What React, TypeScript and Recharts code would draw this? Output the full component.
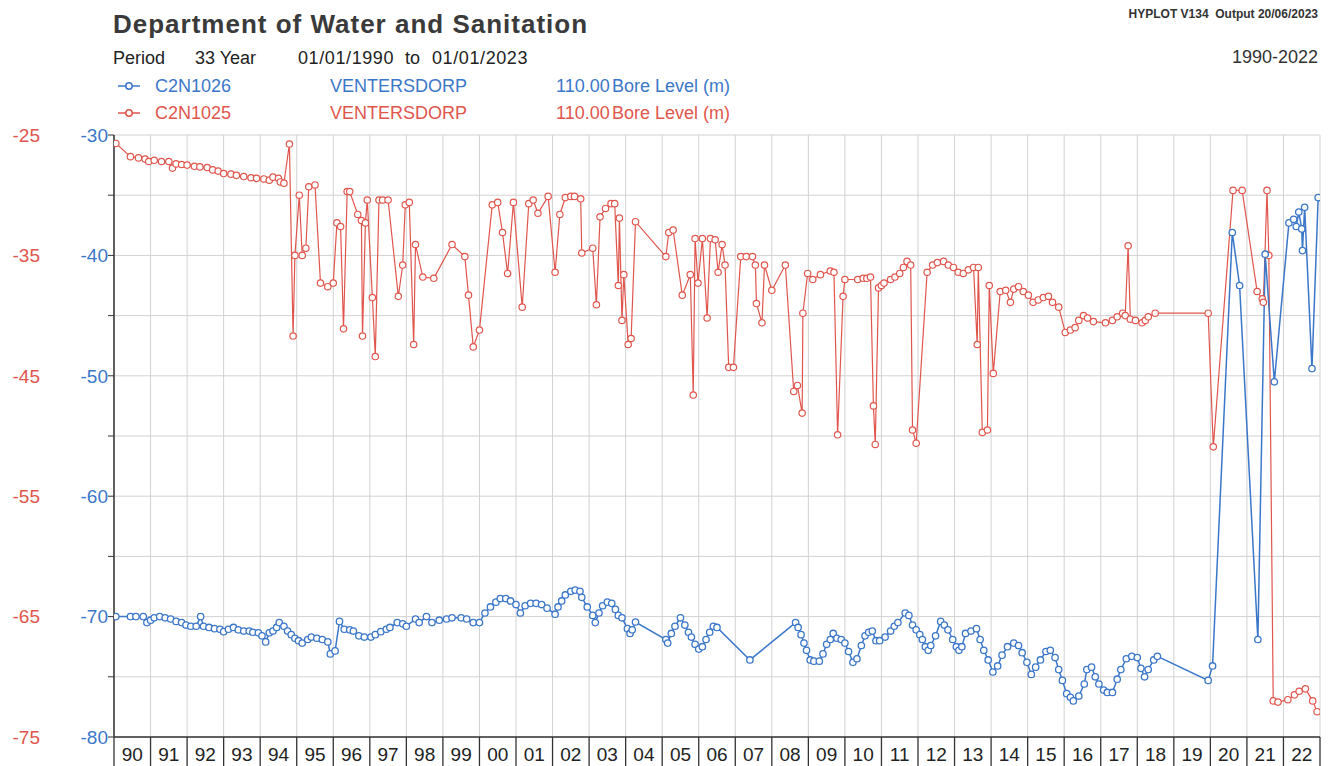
import { LineChart, Line, XAxis, YAxis, CartesianGrid } from "recharts";

const BLUE = "#3b77c9";
const RED = "#e0564d";
const FONT = "'Liberation Sans', Arial, sans-serif";

// C2N1026 bore level (m): [decimal year, level]
const c2n1026: [number, number][] = [
  [1990.05, -70.0], [1990.45, -70.0], [1990.6, -70.0], [1990.8, -70.0], [1990.9, -70.5],
  [1991.0, -70.3], [1991.1, -70.1], [1991.25, -70.0], [1991.4, -70.1], [1991.55, -70.2],
  [1991.7, -70.4], [1991.85, -70.5], [1991.97, -70.7], [1992.1, -70.8], [1992.25, -70.8],
  [1992.37, -70.0], [1992.45, -70.8], [1992.6, -70.9], [1992.75, -71.0], [1992.9, -71.05],
  [1993.0, -71.25], [1993.13, -71.05], [1993.27, -70.9], [1993.4, -71.1], [1993.55, -71.2],
  [1993.7, -71.2], [1993.8, -71.3], [1993.95, -71.35], [1994.05, -71.6], [1994.15, -72.1],
  [1994.25, -71.35], [1994.35, -71.2], [1994.45, -70.9], [1994.52, -70.5], [1994.65, -70.8],
  [1994.75, -71.2], [1994.85, -71.5], [1994.95, -71.8], [1995.05, -72.0], [1995.15, -72.2],
  [1995.3, -71.9], [1995.4, -71.7], [1995.55, -71.8], [1995.7, -71.9], [1995.85, -72.1],
  [1995.92, -73.1], [1996.05, -72.85], [1996.17, -70.4], [1996.3, -71.05], [1996.45, -71.1],
  [1996.55, -71.2], [1996.7, -71.6], [1996.85, -71.7], [1997.03, -71.7], [1997.15, -71.5],
  [1997.3, -71.25], [1997.45, -71.05], [1997.55, -70.9], [1997.75, -70.5], [1997.9, -70.6],
  [1998.0, -70.8], [1998.25, -70.2], [1998.35, -70.5], [1998.55, -70.0], [1998.7, -70.5],
  [1998.9, -70.3], [1999.1, -70.2], [1999.25, -70.1], [1999.5, -70.1], [1999.65, -70.2],
  [1999.83, -70.5], [2000.0, -70.5], [2000.15, -69.7], [2000.3, -69.2], [2000.45, -68.8],
  [2000.57, -68.5], [2000.72, -68.5], [2000.85, -68.7], [2001.0, -69.0], [2001.12, -69.7],
  [2001.25, -69.1], [2001.4, -68.9], [2001.55, -68.9], [2001.7, -69.0], [2001.85, -69.3],
  [2002.07, -69.8], [2002.15, -69.2], [2002.25, -68.7], [2002.35, -68.2], [2002.5, -67.9],
  [2002.62, -67.8], [2002.75, -67.9], [2002.8, -68.4], [2002.95, -69.2], [2003.1, -69.9],
  [2003.17, -70.5], [2003.27, -69.7], [2003.37, -69.1], [2003.5, -68.8], [2003.62, -68.9],
  [2003.72, -69.4], [2003.8, -69.9], [2003.9, -70.1], [2004.05, -71.0], [2004.12, -71.4],
  [2004.18, -71.1], [2004.27, -70.45], [2005.1, -71.9], [2005.15, -72.2], [2005.25, -71.4],
  [2005.35, -70.8], [2005.5, -70.1], [2005.62, -70.7], [2005.72, -71.3], [2005.8, -71.7],
  [2005.9, -72.3], [2006.0, -72.7], [2006.1, -72.5], [2006.2, -71.9], [2006.3, -71.3],
  [2006.4, -70.8], [2006.5, -70.9], [2007.4, -73.6], [2008.65, -70.5], [2008.72, -70.9],
  [2008.8, -71.5], [2008.88, -72.2], [2008.95, -72.8], [2009.05, -73.6], [2009.15, -73.7],
  [2009.3, -73.7], [2009.4, -73.1], [2009.5, -72.3], [2009.6, -71.9], [2009.68, -71.4],
  [2009.78, -71.8], [2009.9, -71.9], [2010.0, -72.2], [2010.1, -72.9], [2010.22, -73.8],
  [2010.33, -73.5], [2010.45, -72.4], [2010.55, -71.6], [2010.65, -71.3], [2010.75, -71.2],
  [2010.85, -72.0], [2010.95, -72.0], [2011.1, -71.7], [2011.25, -71.2], [2011.35, -70.8],
  [2011.45, -70.5], [2011.65, -69.7], [2011.75, -69.9], [2011.85, -70.7], [2011.95, -71.1],
  [2012.05, -71.5], [2012.12, -71.9], [2012.2, -72.5], [2012.28, -72.8], [2012.35, -72.4],
  [2012.48, -71.6], [2012.62, -70.4], [2012.72, -70.7], [2012.82, -71.1], [2012.95, -71.9],
  [2013.05, -72.5], [2013.12, -72.8], [2013.2, -72.5], [2013.3, -71.4], [2013.45, -71.2],
  [2013.6, -71.0], [2013.7, -71.9], [2013.8, -72.8], [2013.92, -73.6], [2014.05, -74.6],
  [2014.18, -74.1], [2014.3, -73.2], [2014.45, -72.5], [2014.62, -72.2], [2014.75, -72.4],
  [2014.85, -73.0], [2014.98, -73.8], [2015.1, -74.8], [2015.22, -74.2], [2015.35, -73.6],
  [2015.5, -72.9], [2015.62, -72.8], [2015.75, -73.4], [2015.85, -74.4], [2015.95, -75.3],
  [2016.07, -76.4], [2016.17, -76.7], [2016.25, -77.0], [2016.4, -76.6], [2016.55, -75.6],
  [2016.62, -74.4], [2016.75, -74.2], [2016.85, -75.0], [2016.95, -75.6], [2017.08, -76.1],
  [2017.18, -76.3], [2017.32, -76.3], [2017.45, -75.2], [2017.55, -74.4], [2017.7, -73.5],
  [2017.85, -73.3], [2018.0, -73.4], [2018.1, -74.3], [2018.2, -75.0], [2018.3, -74.4],
  [2018.45, -73.6], [2018.55, -73.3], [2019.94, -75.3], [2020.06, -74.1], [2020.6, -38.1],
  [2020.8, -42.5], [2021.3, -71.9], [2021.5, -39.9], [2021.75, -50.5], [2022.15, -37.3],
  [2022.28, -37.0], [2022.35, -37.6], [2022.42, -36.4], [2022.5, -37.8], [2022.52, -39.6],
  [2022.58, -36.0], [2022.78, -49.4], [2022.95, -35.2],
];

// C2N1025 bore level (m): [decimal year, level]
const c2n1025: [number, number][] = [
  [1990.05, -25.7], [1990.45, -26.8], [1990.67, -26.9], [1990.85, -27.0], [1990.95, -27.2],
  [1991.1, -27.1], [1991.3, -27.2], [1991.5, -27.2], [1991.6, -27.75], [1991.7, -27.4],
  [1991.85, -27.45], [1992.0, -27.5], [1992.2, -27.6], [1992.35, -27.65], [1992.55, -27.7],
  [1992.7, -27.9], [1992.85, -28.0], [1993.0, -28.2], [1993.2, -28.25], [1993.35, -28.35],
  [1993.55, -28.45], [1993.75, -28.55], [1993.9, -28.6], [1994.1, -28.65], [1994.25, -28.75],
  [1994.35, -28.5], [1994.5, -28.6], [1994.55, -28.9], [1994.65, -29.0], [1994.8, -25.75],
  [1994.9, -41.7], [1994.95, -35.0], [1995.07, -30.0], [1995.15, -35.0], [1995.25, -34.4],
  [1995.33, -29.3], [1995.5, -29.15], [1995.65, -37.3], [1995.85, -37.6], [1996.0, -37.3],
  [1996.1, -32.3], [1996.2, -32.6], [1996.28, -41.1], [1996.38, -29.7], [1996.45, -29.7],
  [1996.67, -31.6], [1996.77, -32.1], [1996.8, -41.7], [1996.88, -32.3], [1996.93, -30.4],
  [1997.07, -38.5], [1997.15, -43.4], [1997.25, -30.4], [1997.35, -30.4], [1997.5, -30.4],
  [1997.78, -38.4], [1997.9, -35.8], [1997.97, -30.8], [1998.08, -30.6], [1998.2, -42.4],
  [1998.25, -34.1], [1998.45, -36.8], [1998.75, -36.9], [1999.25, -34.1], [1999.6, -35.1],
  [1999.7, -38.3], [1999.83, -42.6], [2000.0, -41.2], [2000.35, -30.8], [2000.5, -30.6],
  [2000.63, -33.1], [2000.77, -36.5], [2000.93, -30.6], [2001.17, -39.3], [2001.35, -30.7],
  [2001.47, -30.4], [2001.6, -31.5], [2001.88, -30.1], [2002.07, -36.4], [2002.2, -31.6],
  [2002.35, -30.2], [2002.5, -30.1], [2002.6, -30.1], [2002.77, -30.3], [2002.8, -34.8],
  [2003.1, -34.4], [2003.2, -39.1], [2003.3, -31.8], [2003.45, -31.1], [2003.6, -30.7],
  [2003.7, -30.7], [2003.8, -37.5], [2003.83, -31.9], [2003.9, -40.4], [2003.95, -36.6],
  [2004.07, -42.4], [2004.15, -41.9], [2004.27, -32.2], [2005.1, -35.1], [2005.18, -33.1],
  [2005.3, -32.9], [2005.55, -38.3], [2005.77, -36.6], [2005.85, -46.6], [2005.9, -33.6],
  [2005.98, -37.3], [2006.1, -33.6], [2006.23, -40.2], [2006.32, -33.6], [2006.45, -33.7],
  [2006.53, -36.4], [2006.64, -34.1], [2006.72, -35.8], [2006.82, -44.3], [2006.95, -44.3],
  [2007.15, -35.1], [2007.3, -35.1], [2007.47, -35.1], [2007.55, -35.8], [2007.58, -39.0],
  [2007.73, -40.6], [2007.8, -35.8], [2008.0, -37.9], [2008.37, -35.8], [2008.6, -46.3],
  [2008.7, -45.8], [2008.83, -48.1], [2008.85, -39.8], [2008.98, -36.5], [2009.12, -37.0],
  [2009.33, -36.6], [2009.6, -36.3], [2009.7, -36.4], [2009.8, -49.9], [2009.95, -38.4],
  [2010.0, -37.0], [2010.35, -37.0], [2010.5, -36.9], [2010.6, -36.9], [2010.7, -36.8],
  [2010.78, -47.5], [2010.83, -50.7], [2010.92, -37.7], [2011.0, -37.5], [2011.07, -37.3],
  [2011.25, -37.0], [2011.37, -36.8], [2011.5, -36.5], [2011.6, -36.0], [2011.7, -35.5],
  [2011.8, -35.8], [2011.85, -49.5], [2011.95, -50.6], [2012.25, -36.4], [2012.4, -35.8],
  [2012.53, -35.6], [2012.7, -35.5], [2012.83, -35.8], [2012.97, -36.0], [2013.1, -36.4],
  [2013.24, -36.5], [2013.38, -36.2], [2013.52, -36.0], [2013.62, -42.4], [2013.65, -36.0],
  [2013.76, -49.7], [2013.9, -49.5], [2013.95, -37.5], [2014.06, -44.8], [2014.25, -38.0],
  [2014.4, -37.9], [2014.53, -38.9], [2014.62, -37.8], [2014.75, -37.6], [2014.88, -38.0],
  [2015.02, -38.3], [2015.15, -38.9], [2015.29, -38.7], [2015.43, -38.5], [2015.57, -38.4],
  [2015.68, -38.9], [2015.85, -39.3], [2016.03, -41.4], [2016.17, -41.2], [2016.3, -41.0],
  [2016.4, -40.4], [2016.53, -40.0], [2016.64, -40.2], [2016.8, -40.5], [2017.13, -40.6],
  [2017.32, -40.4], [2017.45, -40.1], [2017.6, -39.8], [2017.67, -40.0], [2017.75, -34.2],
  [2017.81, -40.3], [2017.95, -40.4], [2018.13, -40.6], [2018.22, -40.4], [2018.3, -40.1],
  [2018.49, -39.8], [2019.94, -39.8], [2020.08, -50.9], [2020.62, -29.6], [2020.87, -29.6],
  [2021.28, -38.0], [2021.42, -38.6], [2021.45, -38.9], [2021.55, -29.6], [2021.6, -35.0],
  [2021.72, -72.0], [2021.85, -72.1], [2022.12, -71.9], [2022.3, -71.5], [2022.43, -71.2],
  [2022.6, -71.0], [2022.8, -72.0], [2022.92, -72.9],
];

const yearTicks = [
  1990, 1991, 1992, 1993, 1994, 1995, 1996, 1997, 1998, 1999, 2000, 2001, 2002, 2003, 2004, 2005, 2006,
  2007, 2008, 2009, 2010, 2011, 2012, 2013, 2014, 2015, 2016, 2017, 2018, 2019, 2020, 2021, 2022, 2023,
];
const blueTicks = [-80, -75, -70, -65, -60, -55, -50, -45, -40, -35, -30];
const redTicks = [-75, -65, -55, -45, -35, -25];

const W = 1334;
const H = 766;
const X_AXIS_H = 29;
const MARGIN = { top: 135, right: 14, bottom: 0, left: 0 };
const RED_AXIS_W = 50;
const BLUE_AXIS_W = 64;
const YEAR_W = (W - MARGIN.left - MARGIN.right - RED_AXIS_W - BLUE_AXIS_W) / (yearTicks.length - 1);

const blueData = c2n1026.map(([t, v]) => ({ t, v }));
const redData = c2n1025.map(([t, v]) => ({ t, v }));

function YearTick({ x, y, payload }: any) {
  const yr = payload.value as number;
  return (
    <g>
      <line x1={x} y1={y} x2={x} y2={y + X_AXIS_H} stroke="#333" strokeWidth={1.3} />
      {yr < 2023 && (
        <text x={x + YEAR_W / 2} y={y + 24} textAnchor="middle" fontSize={19} fill="#222" fontFamily={FONT}>
          {String(yr % 100).padStart(2, "0")}
        </text>
      )}
    </g>
  );
}

function Txt({ x, y, size = 18, color = "#222", right, bold, children, spacing }: any) {
  return (
    <div
      style={{
        position: "absolute",
        top: y - size / 2,
        left: right === undefined ? x : undefined,
        right,
        fontSize: size,
        lineHeight: 1,
        color,
        fontWeight: bold ? 700 : 400,
        letterSpacing: spacing,
        whiteSpace: "nowrap",
        fontFamily: FONT,
      }}
    >
      {children}
    </div>
  );
}

function LegendMark({ x, y, color }: any) {
  return (
    <svg style={{ position: "absolute", left: x, top: y - 6 }} width={24} height={12}>
      <line x1={1} y1={6} x2={23} y2={6} stroke={color} strokeWidth={1.5} />
      <circle cx={12} cy={6} r={3.2} fill="#fff" stroke={color} strokeWidth={1.5} />
    </svg>
  );
}

export default function App() {
  return (
    <div style={{ position: "absolute", left: 0, top: 0, width: W, height: H, background: "#fff" }}>
      <Txt x={113} y={24} size={26} bold color="#3a3a3a" spacing={1}>
        Department of Water and Sanitation
      </Txt>
      <Txt x={113} y={58}>Period</Txt>
      <Txt x={195} y={58}>33 Year</Txt>
      <Txt x={298} y={58} spacing={0.6}>01/01/1990</Txt>
      <Txt x={405} y={58}>to</Txt>
      <Txt x={432} y={58} spacing={0.6}>01/01/2023</Txt>

      <LegendMark x={117} y={86} color={BLUE} />
      <Txt x={155} y={86} color={BLUE}>C2N1026</Txt>
      <Txt x={330} y={86} color={BLUE}>VENTERSDORP</Txt>
      <Txt x={556} y={86} color={BLUE}>110.00</Txt>
      <Txt x={612} y={86} color={BLUE}>Bore Level (m)</Txt>

      <LegendMark x={117} y={113} color={RED} />
      <Txt x={155} y={113} color={RED}>C2N1025</Txt>
      <Txt x={330} y={113} color={RED}>VENTERSDORP</Txt>
      <Txt x={556} y={113} color={RED}>110.00</Txt>
      <Txt x={612} y={113} color={RED}>Bore Level (m)</Txt>

      <Txt right={16} y={14} size={12} color="#333" bold>
        HYPLOT V134&nbsp; Output 20/06/2023
      </Txt>
      <Txt right={16} y={57} size={18} color="#333">1990-2022</Txt>

      <div style={{ position: "absolute", left: 0, top: 0 }}>
        <LineChart width={W} height={H} margin={MARGIN} style={{ fontFamily: FONT }}>
          <CartesianGrid yAxisId="blue" stroke="#d2d2d2" strokeWidth={1} />
          <XAxis
            dataKey="t"
            type="number"
            domain={[1990, 2023]}
            ticks={yearTicks}
            interval={0}
            allowDataOverflow
            tickSize={0}
            tickMargin={0}
            tickLine={false}
            height={X_AXIS_H}
            axisLine={{ stroke: "#333", strokeWidth: 1.5 }}
            tick={<YearTick />}
          />
          <XAxis
            xAxisId="top"
            orientation="top"
            type="number"
            domain={[0, 1]}
            height={0}
            tick={false}
            tickLine={false}
            axisLine={{ stroke: "#444", strokeWidth: 1.5 }}
          />
          <YAxis
            yAxisId="blue"
            type="number"
            domain={[-80, -30]}
            ticks={blueTicks}
            interval={0}
            allowDataOverflow
            width={BLUE_AXIS_W}
            tickSize={6}
            tickMargin={0}
            tickFormatter={(v: number) => (v % 10 === 0 ? String(v) : "")}
            tick={{ fill: BLUE, fontSize: 19 }}
            tickLine={{ stroke: "#333" }}
            axisLine={{ stroke: "#333", strokeWidth: 1.5 }}
          />
          <YAxis
            yAxisId="red"
            type="number"
            domain={[-75, -25]}
            ticks={redTicks}
            interval={0}
            allowDataOverflow
            width={RED_AXIS_W}
            tickSize={0}
            tickMargin={10}
            tick={{ fill: RED, fontSize: 19 }}
            tickLine={false}
            axisLine={false}
          />
          <YAxis
            yAxisId="frame"
            orientation="right"
            type="number"
            domain={[0, 1]}
            width={0}
            tick={false}
            tickLine={false}
            axisLine={{ stroke: "#555", strokeWidth: 1.2 }}
          />
          <Line
            data={redData}
            yAxisId="red"
            dataKey="v"
            type="linear"
            stroke={RED}
            strokeWidth={1.2}
            dot={{ r: 3.2, fill: "#fff", stroke: RED, strokeWidth: 1.2 }}
            activeDot={false}
            isAnimationActive={false}
          />
          <Line
            data={blueData}
            yAxisId="blue"
            dataKey="v"
            type="linear"
            stroke={BLUE}
            strokeWidth={1.5}
            dot={{ r: 3.2, fill: "#fff", stroke: BLUE, strokeWidth: 1.3 }}
            activeDot={false}
            isAnimationActive={false}
          />
        </LineChart>
      </div>
    </div>
  );
}
